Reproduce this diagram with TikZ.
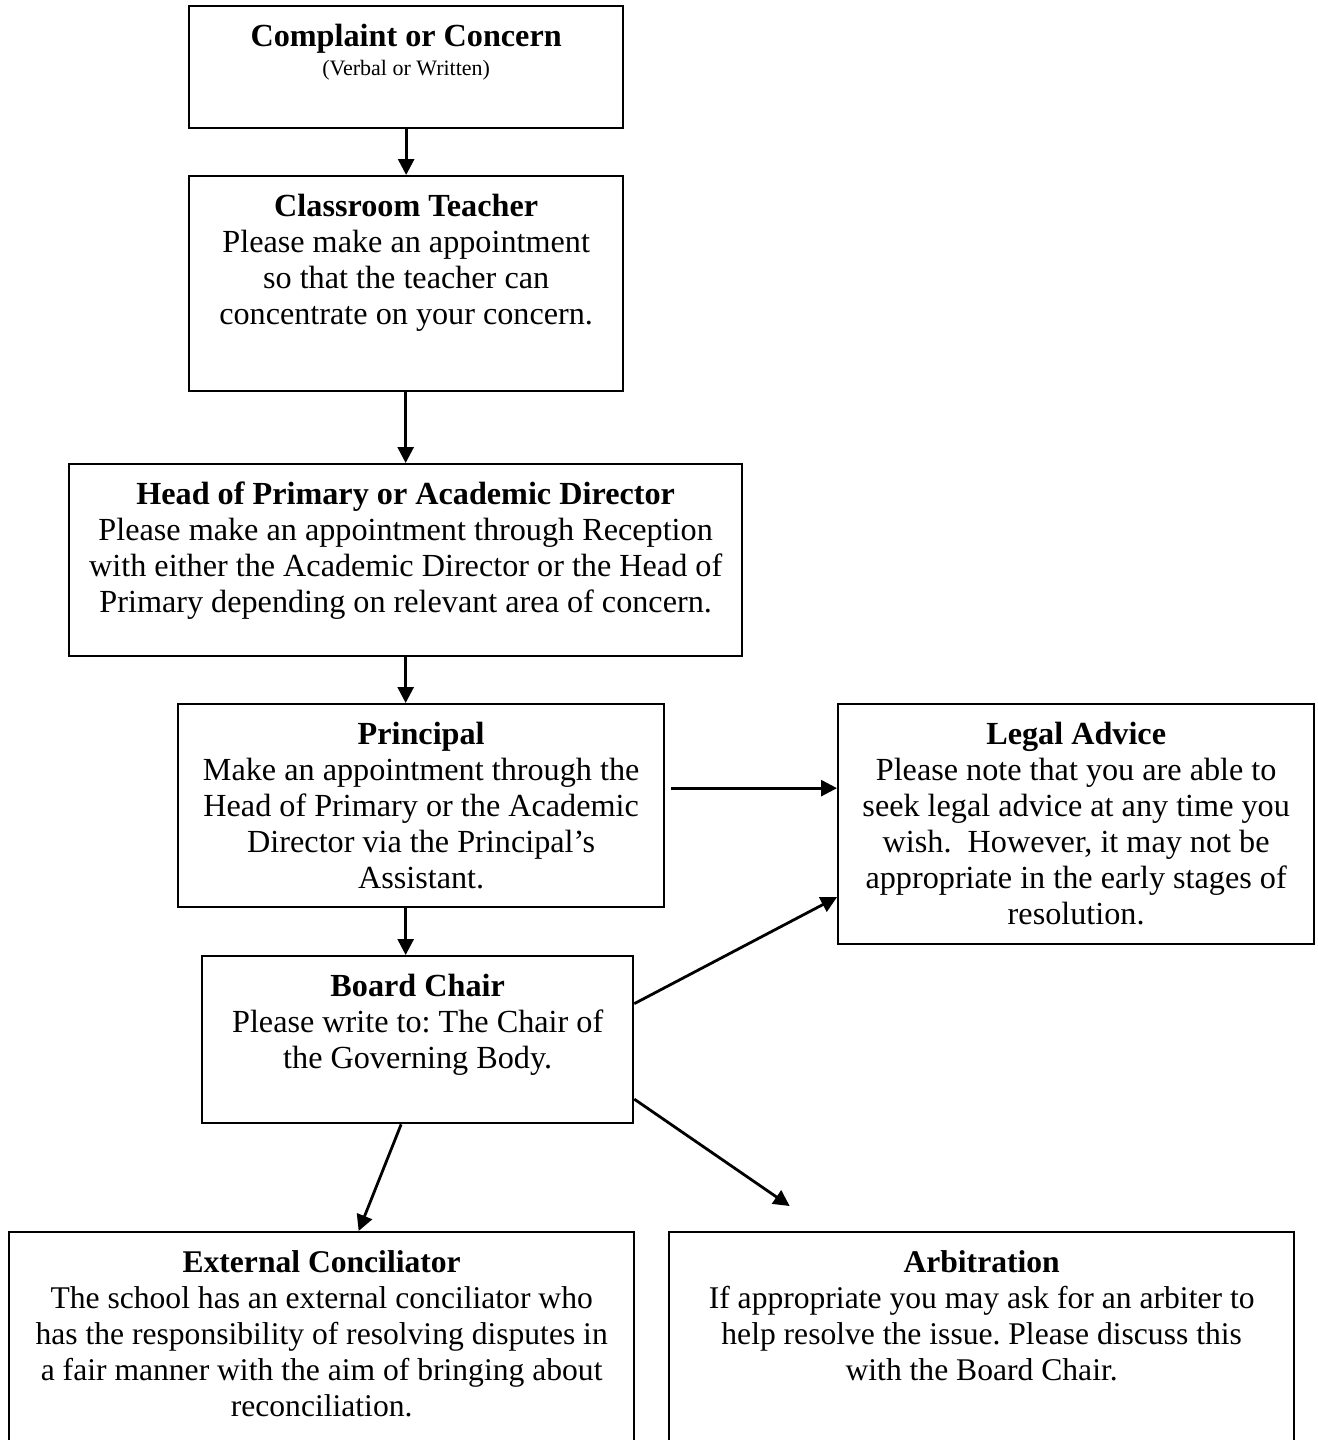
\documentclass[tikz,border=0pt]{standalone}
\usepackage{fontspec}
\setmainfont{Liberation Serif}
\usetikzlibrary{arrows.meta}
\newcommand{\stagetext}[3]{\parbox[c][#2][t]{#1}{\frenchspacing\centering\rule{0pt}{40pt}#3}}
\tikzset{
  stage/.style={draw, line width=2.3pt, inner sep=0pt, anchor=north west,
    font=\fontsize{32.2}{36}\selectfont},
  flow/.style={line width=2.8pt, -{Triangle[length=16pt,width=16pt]}}
}
\begin{document}
\begin{tikzpicture}[x=1pt,y=-1pt]
\useasboundingbox (0,0) rectangle (1317,1440);
% steps of the procedure
\node[stage] (complaint) at (188,5) {\stagetext{434pt}{122pt}{\textbf{Complaint or Concern}\\[-7pt]
  {\fontsize{22}{24}\selectfont (Verbal or Written)}}};
\node[stage] (teacher) at (188,175) {\stagetext{434pt}{215pt}{\textbf{Classroom Teacher}\\
  Please make an appointment\\ so that the teacher can\\ concentrate on your concern.}};
\node[stage] (head) at (68,463) {\stagetext{673pt}{192pt}{\textbf{Head of Primary or Academic Director}\\
  Please make an appointment through Reception\\ with either the Academic Director or the Head of\\
  Primary depending on relevant area of concern.}};
\node[stage] (principal) at (177,703) {\stagetext{486pt}{203pt}{\textbf{Principal}\\
  Make an appointment through the\\ Head of Primary or the Academic\\ Director via the Principal’s\\ Assistant.}};
\node[stage] (legal) at (837,703) {\stagetext{476pt}{240pt}{\textbf{Legal Advice}\\
  Please note that you are able to\\ seek legal advice at any time you\\ wish.\ \ However, it may not be\\
  appropriate in the early stages of\\ resolution.}};
\node[stage] (board) at (201,955) {\stagetext{431pt}{167pt}{\textbf{Board Chair}\\
  Please write to: The Chair of\\ the Governing Body.}};
\node[stage, font=\fontsize{31.6}{36}\selectfont] (external) at (8,1231) {\stagetext{625pt}{225pt}{\textbf{External Conciliator}\\
  The school has an external conciliator who\\ has the responsibility of resolving disputes in\\
  a fair manner with the aim of bringing about\\ reconciliation.}};
\node[stage, font=\fontsize{31.6}{36}\selectfont] (arbitration) at (668,1231) {\stagetext{625pt}{225pt}{\textbf{Arbitration}\\
  If appropriate you may ask for an arbiter to\\ help resolve the issue. Please discuss this\\
  with the Board Chair.}};
% arrows
\draw[flow] (complaint.south) -- (teacher.north);
\draw[flow] (head.south |- teacher.south) -- (head.north);
\draw[flow] (head.south) -- (head.south |- principal.north);
\draw[flow] (head.south |- principal.south) -- (head.south |- board.north);
\draw[flow] ([xshift=6pt,yshift=17.5pt]principal.east) -- ([yshift=17.5pt]principal.east -| legal.west);
\draw[flow] ([yshift=36pt]board.east) -- ([yshift=-73pt]legal.west);
\draw[flow] ([xshift=-16.5pt]board.south) -- ([xshift=37pt]external.north);
\draw[flow] ([yshift=-59.5pt]board.east) -- ([xshift=-192pt,yshift=25pt]arbitration.north);
\end{tikzpicture}
\end{document}
